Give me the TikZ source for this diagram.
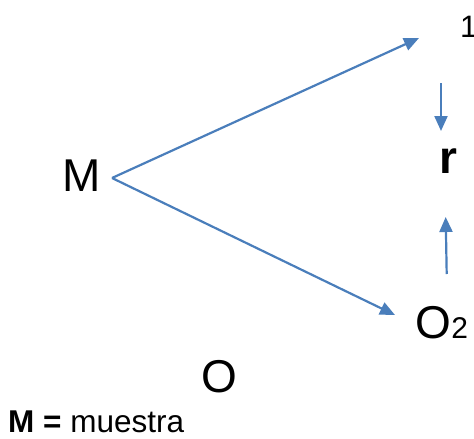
\documentclass[tikz,border=0pt]{standalone}
\usepackage{fontspec}
\setmainfont{Liberation Sans}
\usetikzlibrary{arrows.meta}
\definecolor{arrowblue}{HTML}{4A7EBB}
\tikzset{
  conn/.style={draw=arrowblue, line width=2.2pt, -{Triangle[length=15pt,width=13pt]}},
  txt/.style={inner sep=0pt, anchor=base west},
  big/.style={txt, font=\fontsize{46}{52}\selectfont},
}
\begin{document}
\begin{tikzpicture}[x=1pt,y=-1pt]
\useasboundingbox (0,0) rectangle (474,439);
\node[big] (m) at (62,191) {M};
\node[txt, font=\fontsize{31}{35}\selectfont] (one) at (460,37) {\makebox[11pt][l]{1}};
\node[big, font=\fontsize{46}{52}\selectfont\bfseries] (r) at (439,173) {r};
\node[big] (o2) at (415,338) {O};
\node[txt, font=\fontsize{30}{34}\selectfont] (sub) at (o2.base east) {2};
\node[big] (o) at (201,392) {O};
\node[txt, font=\fontsize{31.5}{34}\selectfont] (legend) at (8,432) {\textbf{M =} muestra};
\coordinate (ms) at (112,178);
\coordinate (t1) at (419,38);
\coordinate (t2) at (395,315);
\coordinate (dstart) at (441,83);
\coordinate (dend) at (441,131);
\coordinate (ustart) at (446.7,274);
\coordinate (uend) at (445.7,217);
\draw[conn] (ms) -- (t1);
\draw[conn] (ms) -- (t2);
\draw[conn] (dstart) -- (dend);
\draw[conn] (ustart) -- (uend);
\end{tikzpicture}
\end{document}
